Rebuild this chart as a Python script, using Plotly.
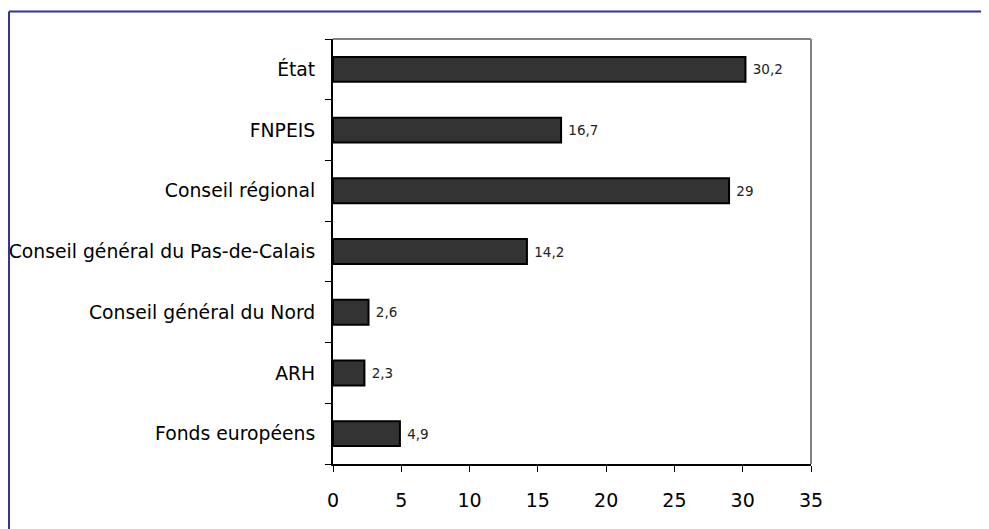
import plotly.graph_objects as go

categories = ["État", "FNPEIS", "Conseil régional", "Conseil général du Pas-de-Calais",
              "Conseil général du Nord", "ARH", "Fonds européens"]
values = [30.2, 16.7, 29, 14.2, 2.6, 2.3, 4.9]
labels = ["\u00a0" + f"{v:g}".replace(".", ",") for v in values]
x_ticks = [0, 5, 10, 15, 20, 25, 30, 35]

W, H = 989, 529
OFF = 8  # page body margin
L, R, T, B = 333 - OFF, 811 - OFF, 39 - OFF, 464 - OFF

fig = go.Figure(go.Bar(
    y=categories, x=values, orientation="h",
    marker=dict(color="#333333", line=dict(color="#000000", width=2)),
    text=labels, textposition="outside", cliponaxis=False,
    textfont=dict(family="DejaVu Sans", size=13.5, color="#222222"),
))

def px_x(p):
    return (p - OFF - L) / (R - L)

def px_y(p):
    return (B - (p - OFF)) / (B - T)

shapes = [
    dict(type="line", xref="paper", yref="paper", x0=0, x1=1, y0=1, y1=1,
         line=dict(color="#808080", width=2)),
    dict(type="line", xref="paper", yref="paper", x0=1, x1=1, y0=0, y1=1,
         line=dict(color="#808080", width=2)),
    dict(type="line", xref="paper", yref="paper", x0=px_x(9), x1=px_x(1010),
         y0=px_y(11.5), y1=px_y(11.5), line=dict(color="#333399", width=2)),
    dict(type="line", xref="paper", yref="paper", x0=px_x(9), x1=px_x(9),
         y0=px_y(11.5), y1=px_y(560), line=dict(color="#333399", width=2)),
]

fig.update_layout(
    width=W, height=H,
    margin=dict(l=L, r=W - R, t=T, b=H - B, autoexpand=False),
    paper_bgcolor="white", plot_bgcolor="white",
    showlegend=False, bargap=0.59,
    font=dict(family="DejaVu Sans", size=18.8, color="#000000"),
    shapes=shapes,
    xaxis=dict(range=[0, 35], tickvals=x_ticks, showgrid=False, zeroline=False,
               showline=True, linecolor="#000000", linewidth=2, automargin=False,
               ticks="outside", ticklen=6, tickcolor="#000000",
               tickfont=dict(size=19), ticklabelstandoff=12),
    yaxis=dict(categoryorder="array", categoryarray=categories[::-1],
               showgrid=False, zeroline=False, showline=True, automargin=False,
               linecolor="#000000", linewidth=2, ticks="outside", ticklen=6,
               tickcolor="#000000", tickson="boundaries", ticklabelstandoff=12,
               tickfont=dict(size=18.8)),
)

fig.write_html("out.html")
